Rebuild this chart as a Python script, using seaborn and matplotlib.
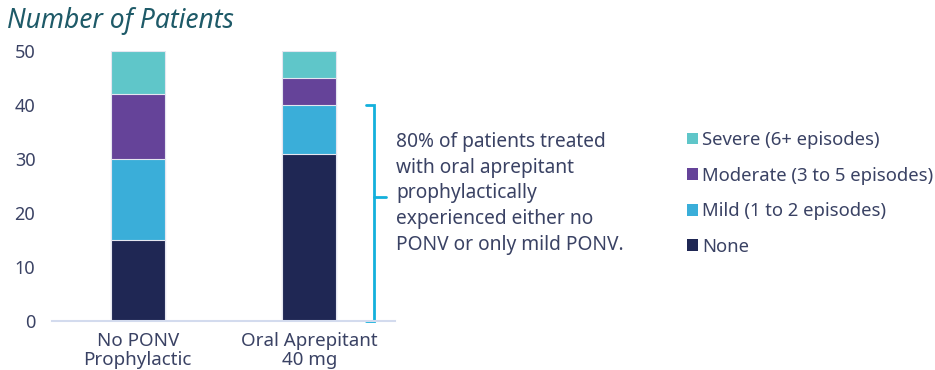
import matplotlib
matplotlib.use("Agg")
import matplotlib.pyplot as plt
from matplotlib.patches import Patch
import seaborn as sns
import pandas as pd
import numpy as np

# Patient counts by PONV severity for each group
groups = ["No PONV\nProphylactic", "Oral Aprepitant\n40 mg"]
none_vals = [15, 31]
mild_vals = [15, 9]
moderate_vals = [12, 5]
severe_vals = [8, 5]

severity_labels = ["None", "Mild (1 to 2 episodes)", "Moderate (3 to 5 episodes)", "Severe (6+ episodes)"]
severity_colors = ["#1f2754", "#3aaed9", "#654399", "#5fc6c9"]

note_text = ("80% of patients treated\nwith oral aprepitant\nprophylactically\n"
             "experienced either no\nPONV or only mild PONV.")

sns.set_theme(style="white")
font = "Noto Sans"
plt.rcParams["font.family"] = [font, "DejaVu Sans"]
text_color = "#3a4264"

W, H = 935, 370
fig = plt.figure(figsize=(W / 100, H / 100), dpi=100)
ax = fig.add_axes([52 / W, (H - 321) / H, (395 - 52) / W, (321 - 51) / H])

layers = [none_vals, mild_vals, moderate_vals, severe_vals]
cum = np.cumsum(np.array(layers), axis=0)

# Draw stacked bars from the tallest cumulative layer down
for i in range(len(layers) - 1, -1, -1):
    df = pd.DataFrame({"group": groups, "value": cum[i]})
    sns.barplot(data=df, x="group", y="value", color=severity_colors[i],
                width=0.315, saturation=1, edgecolor="#e4e6f0", linewidth=0.8,
                ax=ax)

ax.set_xlim(-0.5, 1.5)
ax.set_ylim(0, 50)
ax.set_yticks([0, 10, 20, 30, 40, 50])
ax.set_xlabel("")
ax.set_ylabel("")
for s in ["top", "right", "left"]:
    ax.spines[s].set_visible(False)
ax.spines["bottom"].set_color("#d3dbee")
ax.spines["bottom"].set_linewidth(1.5)
ax.tick_params(axis="y", length=0, pad=12, labelsize=13, labelcolor=text_color)
ax.tick_params(axis="x", length=0, pad=8, labelsize=13.5, labelcolor=text_color)
for lbl in ax.get_xticklabels():
    lbl.set_linespacing(1.05)

fig.text(7 / W, 1 - 21 / H, "Number of Patients", fontsize=19, style="italic",
         color="#1e5a68", va="center", ha="left")

# Bracket spanning None + Mild for the aprepitant group
bx = 1.375
bl = 1.33
ax.plot([bl, bx, bx, bl], [40, 40, 0, 0], color="#13b0dc", lw=2,
        clip_on=False, solid_joinstyle="miter")
ax.plot([bx, 1.445], [23, 23], color="#13b0dc", lw=2, clip_on=False)

fig.text(396 / W, 1 - 132 / H, note_text, fontsize=13.8, color=text_color,
         va="top", ha="left", linespacing=1.38)

handles = [Patch(facecolor=severity_colors[i], edgecolor="none")
           for i in range(3, -1, -1)]
labels = [severity_labels[i] for i in range(3, -1, -1)]
fig.legend(handles, labels, loc="upper left", bbox_to_anchor=(687 / W, 1 - 131 / H),
           frameon=False, fontsize=13.3, labelcolor=text_color,
           handlelength=0.62, handleheight=0.62, handletextpad=0.2,
           labelspacing=0.95, borderaxespad=0, borderpad=0)

fig.savefig("out.png", dpi=100)
